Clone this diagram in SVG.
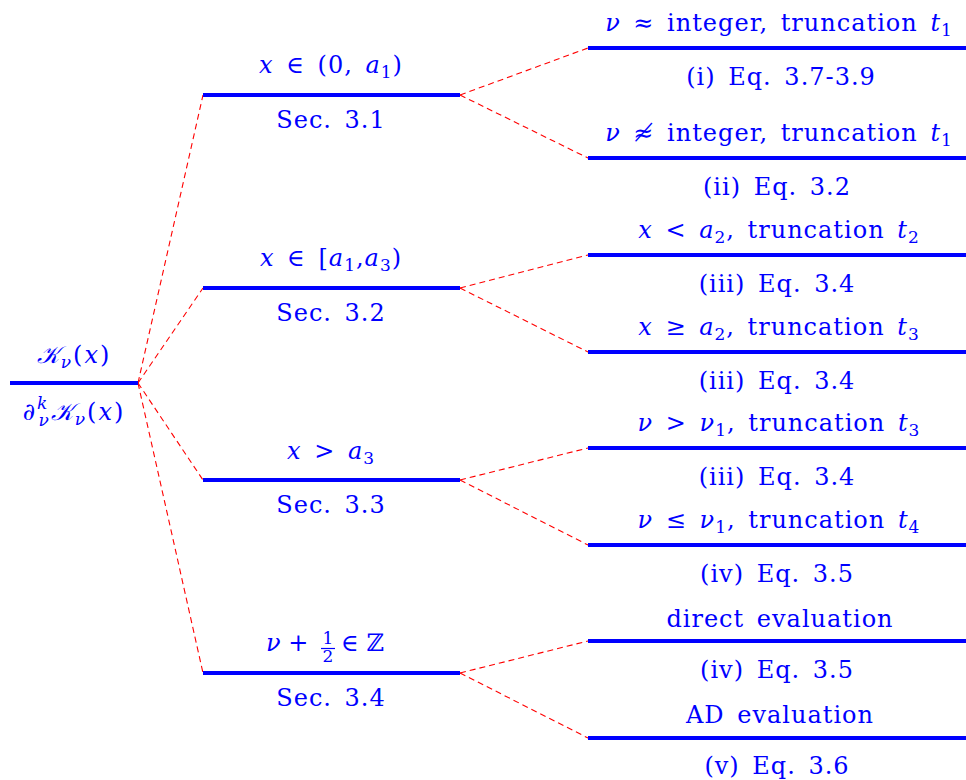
<svg xmlns="http://www.w3.org/2000/svg" width="966" height="780" viewBox="0 0 966 780">
<style>
text{font-family:"DejaVu Serif","Liberation Serif",serif;font-size:24px;fill:#0000ff;letter-spacing:1px;word-spacing:4px}
.c{text-anchor:middle}
.i{font-style:italic}
.s{font-size:17px}
.n{letter-spacing:0;word-spacing:0}
.bar{stroke:#0000ff;stroke-width:4;fill:none}
.e{stroke:#ff0000;stroke-width:1.1;stroke-dasharray:6 4;fill:none}
</style>
<rect width="966" height="780" fill="#ffffff"/>
<g id="edges">
<line class="e" x1="138" y1="383" x2="203" y2="95"/>
<line class="e" x1="138" y1="383" x2="203" y2="288"/>
<line class="e" x1="138" y1="383" x2="203" y2="480"/>
<line class="e" x1="138" y1="383" x2="203" y2="673"/>
<line class="e" x1="460" y1="95" x2="588" y2="48"/>
<line class="e" x1="460" y1="95" x2="588" y2="158"/>
<line class="e" x1="460" y1="288" x2="588" y2="255"/>
<line class="e" x1="460" y1="288" x2="588" y2="352"/>
<line class="e" x1="460" y1="480" x2="588" y2="448"/>
<line class="e" x1="460" y1="480" x2="588" y2="545"/>
<line class="e" x1="460" y1="673" x2="588" y2="641"/>
<line class="e" x1="460" y1="673" x2="588" y2="738"/>
</g>
<g id="root">
<line class="bar" x1="10" y1="383" x2="138" y2="383"/>
<text class="c" x="74" y="363" style="letter-spacing:2px"><tspan class="i">𝒦</tspan><tspan class="i s" dy="5">ν</tspan><tspan dy="-5">(</tspan><tspan class="i">x</tspan>)</text>
<text class="c" x="74" y="420" style="letter-spacing:2px">∂<tspan class="i s" dy="-11">k</tspan><tspan class="i s" dx="-11" dy="17">ν</tspan><tspan class="i" dy="-6">𝒦</tspan><tspan class="i s" dy="5">ν</tspan><tspan dy="-5">(</tspan><tspan class="i">x</tspan>)</text>
</g>
<g id="m1">
<line class="bar" x1="203" y1="95" x2="460" y2="95"/>
<text class="c" x="331" y="73"><tspan class="i">x</tspan> ∈ (0, <tspan class="i">a</tspan><tspan class="s" dy="5">1</tspan><tspan dy="-5">)</tspan></text>
<text class="c" x="331" y="128">Sec. 3.1</text>
</g>
<g id="m2">
<line class="bar" x1="203" y1="288" x2="460" y2="288"/>
<text class="c" x="331" y="266"><tspan class="i">x</tspan> ∈ [<tspan class="i">a</tspan><tspan class="s" dy="5">1</tspan><tspan dy="-5">,</tspan><tspan class="i">a</tspan><tspan class="s" dy="5">3</tspan><tspan dy="-5">)</tspan></text>
<text class="c" x="331" y="321">Sec. 3.2</text>
</g>
<g id="m3">
<line class="bar" x1="203" y1="480" x2="460" y2="480"/>
<text class="c" x="331" y="459"><tspan class="i">x</tspan> &gt; <tspan class="i">a</tspan><tspan class="s" dy="5">3</tspan></text>
<text class="c" x="331" y="513">Sec. 3.3</text>
</g>
<g id="m4">
<line class="bar" x1="203" y1="673" x2="460" y2="673"/>
<text class="n" x="266" y="651"><tspan class="i">ν</tspan> + </text>
<text class="c s n" x="328" y="644">1</text>
<line x1="321" y1="648.5" x2="335" y2="648.5" stroke="#0000ff" stroke-width="1.2"/>
<text class="c s n" x="328" y="662">2</text>
<text class="n" x="341" y="651">∈ ℤ</text>
<text class="c" x="331" y="706">Sec. 3.4</text>
</g>
<g id="l1">
<line class="bar" x1="588" y1="48" x2="966" y2="48"/>
<text class="c" x="779" y="31"><tspan class="i">ν</tspan> ≈ integer, truncation <tspan class="i">t</tspan><tspan class="s" dy="5">1</tspan></text>
<text class="c" x="781" y="85">(i) Eq. 3.7-3.9</text>
</g>
<g id="l2">
<line class="bar" x1="588" y1="158" x2="966" y2="158"/>
<text class="c" x="779" y="141"><tspan class="i">ν</tspan> ≉ integer, truncation <tspan class="i">t</tspan><tspan class="s" dy="5">1</tspan></text>
<text class="c" x="777" y="195">(ii) Eq. 3.2</text>
</g>
<g id="l3">
<line class="bar" x1="588" y1="255" x2="966" y2="255"/>
<text class="c" x="779" y="238"><tspan class="i">x</tspan> &lt; <tspan class="i">a</tspan><tspan class="s" dy="5">2</tspan><tspan dy="-5">, truncation </tspan><tspan class="i">t</tspan><tspan class="s" dy="5">2</tspan></text>
<text class="c" x="777" y="292">(iii) Eq. 3.4</text>
</g>
<g id="l4">
<line class="bar" x1="588" y1="352" x2="966" y2="352"/>
<text class="c" x="779" y="335"><tspan class="i">x</tspan> ≥ <tspan class="i">a</tspan><tspan class="s" dy="5">2</tspan><tspan dy="-5">, truncation </tspan><tspan class="i">t</tspan><tspan class="s" dy="5">3</tspan></text>
<text class="c" x="777" y="389">(iii) Eq. 3.4</text>
</g>
<g id="l5">
<line class="bar" x1="588" y1="448" x2="966" y2="448"/>
<text class="c" x="779" y="431"><tspan class="i">ν</tspan> &gt; <tspan class="i">ν</tspan><tspan class="s" dy="5">1</tspan><tspan dy="-5">, truncation </tspan><tspan class="i">t</tspan><tspan class="s" dy="5">3</tspan></text>
<text class="c" x="777" y="485">(iii) Eq. 3.4</text>
</g>
<g id="l6">
<line class="bar" x1="588" y1="545" x2="966" y2="545"/>
<text class="c" x="779" y="528"><tspan class="i">ν</tspan> ≤ <tspan class="i">ν</tspan><tspan class="s" dy="5">1</tspan><tspan dy="-5">, truncation </tspan><tspan class="i">t</tspan><tspan class="s" dy="5">4</tspan></text>
<text class="c" x="777" y="582">(iv) Eq. 3.5</text>
</g>
<g id="l7">
<line class="bar" x1="588" y1="641" x2="966" y2="641"/>
<text class="c" x="780" y="627">direct evaluation</text>
<text class="c" x="777" y="678">(iv) Eq. 3.5</text>
</g>
<g id="l8">
<line class="bar" x1="588" y1="738" x2="966" y2="738"/>
<text class="c" x="780" y="723">AD evaluation</text>
<text class="c" x="777" y="774">(v) Eq. 3.6</text>
</g>
</svg>
